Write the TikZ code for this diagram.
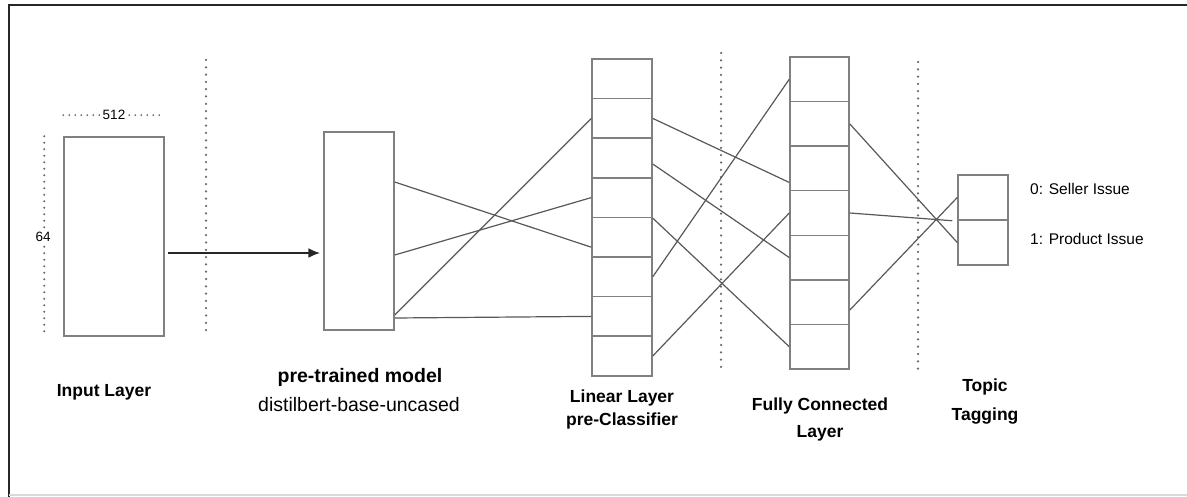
\documentclass[tikz,border=0pt]{standalone}
\usepackage{fontspec}
\setmainfont{Liberation Sans}
\usetikzlibrary{arrows.meta,positioning,calc}

\definecolor{boxgray}{HTML}{808080}
\definecolor{wiregray}{HTML}{585858}
\definecolor{dotgray}{HTML}{6A6A6A}

\begin{document}
\begin{tikzpicture}[
  x = 1pt, y = -1pt,
  box/.style = {draw=boxgray, line width=1.5pt, inner sep=0pt},
  cell/.style = {box, minimum width=#1},
  wire/.style = {draw=wiregray, line width=1.2pt},
  sep/.style = {draw=dotgray, line width=2.5pt, dash pattern=on 0pt off 7.3pt, line cap=round},
  title/.style = {font=\bfseries\fontsize{17.5}{27}\selectfont, align=center, inner sep=0pt},
  plain/.style = {font=\fontsize{19.5}{28}\selectfont, inner sep=0pt},
  legend/.style = {font=\fontsize{15.5}{18}\selectfont, anchor=west, inner sep=0pt},
  dimlabel/.style = {font=\fontsize{13.5}{16}\selectfont, fill=white, inner sep=1pt},
  ]
  \useasboundingbox (0,0) rectangle (1187,497);
  % frame
  \draw[line width=2.2pt, black!85] (9,497) -- (9,5) -- (1187,5);
  \draw[line width=1.5pt, black!15] (9,495) -- (1187,495);

  % input and pre-trained model
  \node[box, minimum width=100pt, minimum height=199pt] (inp) at (114,236.5) {};
  \node[box, minimum width=70pt, minimum height=198pt] (pre) at (359,231) {};

  % size marks on the input
  \draw[sep, line width=2pt, dash pattern=on 0pt off 6pt] ([yshift=21pt]inp.north west) -- ([yshift=21pt]inp.north east);
  \node[dimlabel] (width) at ([yshift=21pt]inp.north) {512};
  \draw[sep, line width=2.2pt, dash pattern=on 0pt off 6.5pt] ([xshift=-19pt]inp.north west) -- ([xshift=-19pt]inp.south west);
  \node[dimlabel] (height) at ([xshift=-20pt]inp.west) {64};

  % linear layer, fully connected layer, tags
  \foreach \i in {1,...,8}
    \node[cell=60pt, minimum height=39.6pt] (lin\i) at (622, {59+39.6*(\i-0.5)}) {};
  \foreach \i in {1,...,7}
    \node[cell=59pt, minimum height=44.57pt] (fc\i) at (819.5, {57+44.57*(\i-0.5)}) {};
  \foreach \i in {1,2}
    \node[cell=50pt, minimum height=45pt] (tag\i) at (983, {175+45*(\i-0.5)}) {};

  % dotted separators
  \draw[sep] (206,60) -- (206,336);
  \draw[sep] (721,53) -- (721,373);
  \draw[sep] (918,62) -- (918,373);

  % input -> model
  \coordinate (feed) at ([xshift=3pt,yshift=-16.5pt]inp.east);
  \draw[-{Latex[length=12pt,width=10pt]}, line width=2.2pt, black!85] (feed) -- ([xshift=-3pt]feed -| pre.west);

  % model -> linear layer
  \draw[wire] ([yshift=49pt]pre.east) -- ([yshift=-10pt]lin5.west);
  \draw[wire] ([yshift=-24pt]pre.east) -- (lin4.west);
  \draw[wire] ([yshift=-84pt]pre.east) -- (lin2.west);
  \draw[wire] ([yshift=-87pt]pre.east) -- (lin7.west);

  % linear layer -> fully connected
  \draw[wire] (lin2.east) -- ([yshift=-14pt]fc3.west);
  \draw[wire] ([yshift=-6pt]lin3.east) -- (fc5.west);
  \draw[wire] (lin4.south east) -- (fc7.west);
  \draw[wire] (lin6.east) -- (fc1.west);
  \draw[wire] (lin8.east) -- (fc4.west);

  % fully connected -> tags
  \draw[wire] (fc2.east) -- (tag2.west);
  \draw[wire] (fc4.east) -- ([xshift=-5pt]tag1.south west);
  \draw[wire] ([yshift=-8pt]fc6.east) -- (tag1.west);

  % tag names
  \node[legend] (seller) at (1030,189) {0: Seller Issue};
  \node[legend] (product) at (1030,239) {1: Product Issue};

  % layer titles
  \node[title] (inptitle) at (104,392) {Input Layer};
  \node[title, font=\bfseries\fontsize{19.5}{28}\selectfont] (pretitle) at (360,377) {pre-trained model};
  \node[plain] (prename) at (359,405) {distilbert-base-uncased};
  \node[title, font=\bfseries\fontsize{17.5}{23}\selectfont] (lintitle) at (622,409.5) {Linear Layer\\pre-Classifier};
  \node[title] (fctitle) at (820,419.5) {Fully Connected\\Layer};
  \node[title, font=\bfseries\fontsize{17.5}{29}\selectfont] (tagtitle) at (985,401.5) {Topic\\Tagging};
\end{tikzpicture}
\end{document}
